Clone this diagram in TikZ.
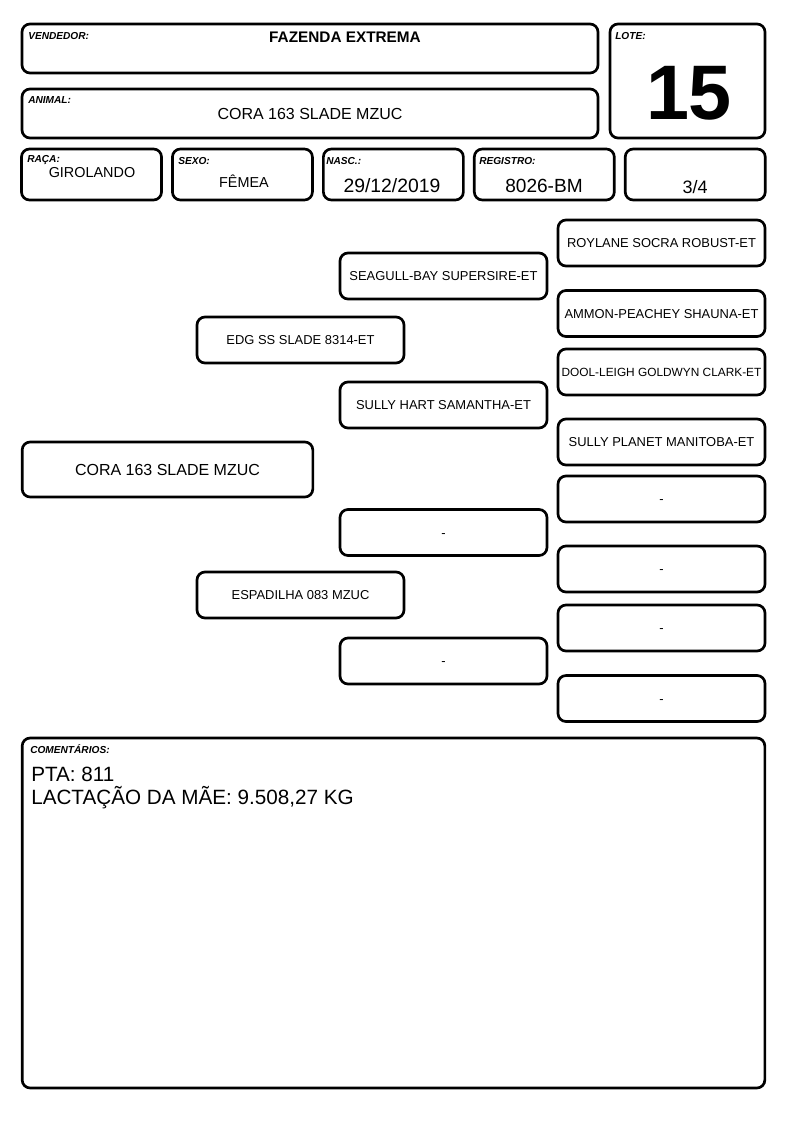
\documentclass[tikz,border=0pt]{standalone}
\usepackage{fontspec}
\setmainfont{Liberation Sans}
\usetikzlibrary{positioning}

\begin{document}
\begin{tikzpicture}[x=0.75pt,y=-0.75pt,node distance=113.2pt,on grid,
    caixa/.style={draw,line width=2pt,rounded corners=6pt,inner sep=0pt},
    campo/.style={caixa,minimum width=105pt,minimum height=38.25pt},
    ped/.style={caixa,minimum width=155.25pt,minimum height=34.5pt,text height=7pt,text depth=0pt,font=\fontsize{9.7}{11}\selectfont},
    rotulo/.style={anchor=west,inner sep=0pt,font=\fontsize{7.6}{9}\selectfont\bfseries\itshape},
    valor/.style={anchor=base,inner sep=0pt}]

  \useasboundingbox (0,0) rectangle (794,1123);

  % cabecalho
  \node[caixa,minimum width=432pt,minimum height=36.75pt] (vend) at (310,48.5) {};
  \node[caixa,minimum width=116.25pt,minimum height=85.5pt] (lote) at (687.5,81) {};
  \node[caixa,minimum width=432pt,minimum height=36.75pt,font=\fontsize{12}{14}\selectfont] (animal) at (310,113.5) {CORA 163 SLADE MZUC};
  \node[campo] (raca) at (91.5,174.5) {};
  \node[campo] (sexo) [right=of raca] {};
  \node[campo] (nasc) [right=of sexo] {};
  \node[campo] (reg)  [right=of nasc] {};
  \node[campo] (grau) [right=of reg] {};

  \node[rotulo] (l_vend)   at (28,36)   {VENDEDOR:};
  \node[rotulo] (l_lote)   at (615,36)  {LOTE:};
  \node[rotulo] (l_animal) at (28,100)  {ANIMAL:};
  \node[rotulo] (l_raca)   at (27,160)  {RAÇA:};
  \node[rotulo] (l_sexo)   at (178,161) {SEXO:};
  \node[rotulo] (l_nasc)   at (326,161) {NASC.:};
  \node[rotulo] (l_reg)    at (479,161) {REGISTRO:};

  \node[valor,font=\fontsize{11.5}{13}\selectfont\bfseries] (v_vend) at (345,43) {FAZENDA EXTREMA};
  \node[valor,font=\fontsize{58}{58}\selectfont\bfseries] (v_lote) at (689,120) {15};
  \node[valor,font=\fontsize{10.8}{12}\selectfont] (v_raca) at (92,177.5) {GIROLANDO};
  \node[valor,font=\fontsize{10.8}{12}\selectfont] (v_sexo) at (244,188) {FÊMEA};
  \node[valor,font=\fontsize{14.5}{16}\selectfont] (v_nasc) at (392,193) {29/12/2019};
  \node[valor,font=\fontsize{14.3}{16}\selectfont] (v_reg)  at (544,193) {8026-BM};
  \node[valor,font=\fontsize{13.5}{15}\selectfont] (v_grau) at (695,194) {3/4};

  % pedigree
  \node[caixa,minimum width=218pt,minimum height=41.25pt,text height=8.6pt,text depth=0pt,font=\fontsize{12}{14}\selectfont] (cora) at (167.5,469.5) {CORA 163 SLADE MZUC};
  \node[ped] (pai)     at (300.5,340) {EDG SS SLADE 8314-ET};
  \node[ped] (mae)     at (300.5,595) {ESPADILHA 083 MZUC};
  \node[ped] (pai_p)   at (443.5,276) {SEAGULL-BAY SUPERSIRE-ET};
  \node[ped] (pai_m)   at (443.5,405) {SULLY HART SAMANTHA-ET};
  \node[ped] (mae_p)   at (443.5,532.5) {-};
  \node[ped] (mae_m)   at (443.5,661) {-};
  \node[ped] (pai_p_p) at (661.5,243) {ROYLANE SOCRA ROBUST-ET};
  \node[ped] (pai_p_m) at (661.5,313.5) {AMMON-PEACHEY SHAUNA-ET};
  \node[ped,font=\fontsize{8.9}{10}\selectfont,text height=6.4pt] (pai_m_p) at (661.5,372) {DOOL-LEIGH GOLDWYN CLARK-ET};
  \node[ped] (pai_m_m) at (661.5,442) {SULLY PLANET MANITOBA-ET};
  \node[ped] (mae_p_p) at (661.5,499) {-};
  \node[ped] (mae_p_m) at (661.5,569) {-};
  \node[ped] (mae_m_p) at (661.5,628) {-};
  \node[ped] (mae_m_m) at (661.5,698.5) {-};

  % comentarios
  \node[caixa,minimum width=557pt,minimum height=262.5pt] (coment) at (393.5,913) {};
  \node[rotulo] (l_coment) at (30,749) {COMENTÁRIOS:};
  \node[anchor=base west,inner sep=0pt,font=\fontsize{15.5}{17}\selectfont] (com1) at (31,781.5) {PTA: 811};
  \node[anchor=base west,inner sep=0pt,font=\fontsize{15.5}{17}\selectfont] (com2) at (31,804) {LACTAÇÃO DA MÃE: 9.508,27 KG};
\end{tikzpicture}
\end{document}
